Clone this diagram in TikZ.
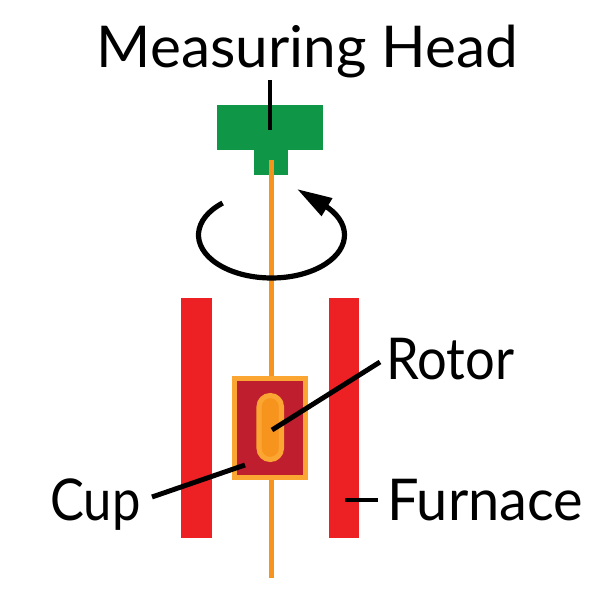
\documentclass[tikz,border=0pt]{standalone}
\usepackage{fontspec}
\setmainfont{Lato}
\usepackage{graphicx}
\usepackage{xcolor}
\usetikzlibrary{arrows.meta}
\definecolor{headgreen}{HTML}{0F9647}
\definecolor{shaft}{HTML}{F7941E}
\definecolor{furnacered}{HTML}{ED2024}
\definecolor{cupred}{HTML}{BE1E2D}
\definecolor{rim}{HTML}{FBA633}
\begin{document}
\begin{tikzpicture}[x=0.25mm,y=0.25mm,
  lab/.style={font=\fontsize{41}{41}\selectfont,inner sep=0pt,text=black},
  leader/.style={black,line width=3.5pt}
]
\useasboundingbox[fill=white] (0,0) rectangle (600,600);
% ---- measuring head
\fill[headgreen] (217,495) rectangle (323,450);
\fill[headgreen] (254,450) rectangle (288,425);
% ---- shaft
\draw[shaft,line width=3.8pt] (271.5,440) -- (271.5,22);
% ---- furnace walls
\fill[furnacered] (181,302) rectangle (212,62);
\fill[furnacered] (329,302) rectangle (359,62);
% ---- cup and rotor
\draw[rim,fill=cupred,line width=3.6pt] (234.5,221.5) rectangle (305.5,122.5);
\draw[rim,fill=shaft,line width=3.6pt,rounded corners=2.8mm] (259,204.5) rectangle (281.5,140.5);
% ---- rotation arrow
\draw[black,line width=3.7pt,-{Triangle[length=25pt,width=14pt]}]
  (271.5,365) ++(132:73 and 43) arc (132:399:73 and 43) -- (297,411);
% ---- labels
\node[lab,anchor=base] (headlab) at (307.5,532) {\scalebox{1.015}[1]{Measuring Head}};
\node[lab,anchor=base west] (rotorlab) at (386,220) {\scalebox{0.91}[1]{Rotor}};
\node[lab,anchor=base west] (cuplab) at (50,80) {\scalebox{0.88}[1]{Cup}};
\node[lab,anchor=base west] (furnacelab) at (387,80) {\scalebox{0.97}[1]{Furnace}};
\coordinate (headstart) at (270,520);
\coordinate (headend) at (270,470);
\coordinate (rotorstart) at (380,238);
\coordinate (rotorend) at (272,170);
\coordinate (cupstart) at (152,103);
\coordinate (cupend) at (245,135);
\coordinate (furnacestart) at (378,100);
\coordinate (furnaceend) at (345,100);
\draw[leader] (headstart) -- (headend);
\draw[leader] (rotorstart) -- (rotorend);
\draw[leader] (cupstart) -- (cupend);
\draw[leader] (furnacestart) -- (furnaceend);
\end{tikzpicture}
\end{document}
